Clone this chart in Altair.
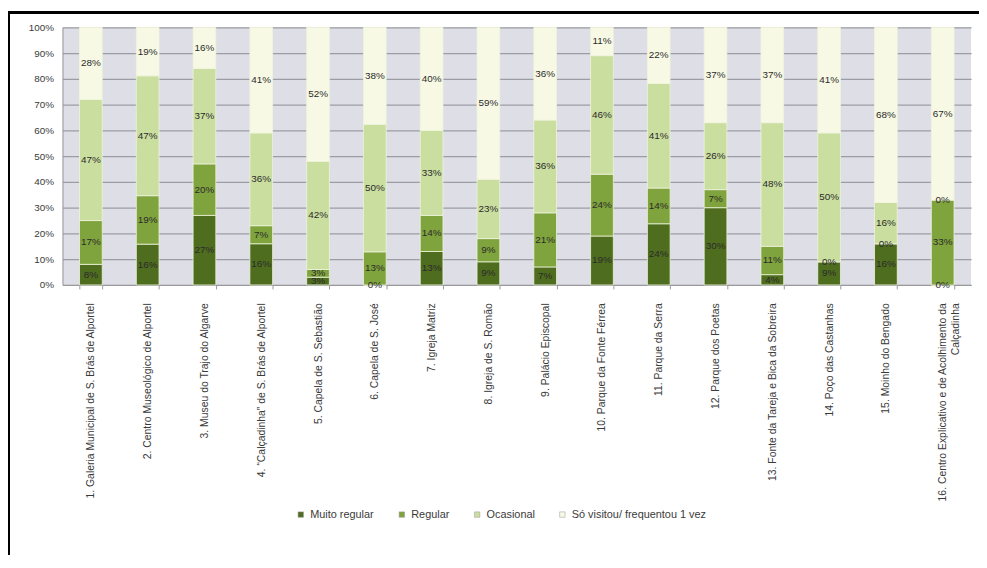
import altair as alt
import pandas as pd

categories = [
    "1. Galeria Municipal de S. Brás de Alportel",
    "2. Centro Museológico de Alportel",
    "3. Museu do Trajo do Algarve",
    "4. “Calçadinha” de S. Brás de Alportel",
    "5. Capela de S. Sebastião",
    "6. Capela de S. José",
    "7. Igreja Matriz",
    "8. Igreja de S. Romão",
    "9. Palácio Episcopal",
    "10. Parque da Fonte Férrea",
    "11. Parque da Serra",
    "12. Parque dos Poetas",
    "13. Fonte da Tareja e Bica da Sobreira",
    "14. Poço das Castanhas",
    "15. Moinho do Bengado",
    "16. Centro Explicativo e de Acolhimento da|Calçadinha",
]
series = ["Muito regular", "Regular", "Ocasional", "Só visitou/ frequentou 1 vez"]
muito_regular = [8, 16, 27, 16, 3, 0, 13, 9, 7, 19, 24, 30, 4, 9, 16, 0]
regular = [17, 19, 20, 7, 3, 13, 14, 9, 21, 24, 14, 7, 11, 0, 0, 33]
ocasional = [47, 47, 37, 36, 42, 50, 33, 23, 36, 46, 41, 26, 48, 50, 16, 0]
so_visitou = [28, 19, 16, 41, 52, 38, 40, 59, 36, 11, 22, 37, 37, 41, 68, 67]
y_ticks = [i / 10 for i in range(11)]
colors = ["#4e6d1e", "#7fa33d", "#cadea0", "#f7f9e4"]

rows = []
for i, c in enumerate(categories):
    for j, (s, vals) in enumerate(zip(series, [muito_regular, regular, ocasional, so_visitou])):
        rows.append({"cat": c, "series": s, "order": j, "value": vals[i]})
df = pd.DataFrame(rows)

W, H = 917, 260
FONT = "Liberation Sans"

x_axis = alt.Axis(labelAngle=270, labelAlign="right", labelBaseline="middle",
                  labelPadding=14, labelFontSize=10.5, labelColor="#3a3a3a",
                  labelFont=FONT, labelLimit=400, labelOverlap=False,
                  labelExpr="split(datum.label, '|')",
                  tickBand="extent", tickSize=4, tickColor="#999999",
                  domainColor="#999999", grid=False)
x_scale = alt.Scale(paddingInner=0.6, paddingOuter=0.3)
y_axis = alt.Axis(format="%", values=y_ticks, labelOverlap=False,
                  labelFontSize=10, labelColor="#3a3a3a", labelFont=FONT,
                  labelPadding=9, ticks=False, domainColor="#999999",
                  gridColor="#9c9ca4", gridWidth=1.2)
y_scale = alt.Scale(domain=[0, 1], nice=False)

base = alt.Chart(df).transform_stack(
    stack="value", as_=["y0", "y1"], groupby=["cat"],
    sort=[alt.SortField("order", order="ascending")], offset="normalize"
).transform_calculate(mid="(datum.y0 + datum.y1) / 2", lab="datum.value + '%'")

bars = base.mark_bar(stroke="#eef3dc", strokeWidth=0.8).encode(
    x=alt.X("cat:N", sort=categories, title=None, scale=x_scale, axis=x_axis),
    y=alt.Y("y0:Q", title=None, scale=y_scale, axis=y_axis),
    y2="y1:Q",
    color=alt.Color("series:N", sort=series,
                    scale=alt.Scale(domain=series, range=colors),
                    legend=alt.Legend(title=None, orient="none", direction="horizontal",
                                      legendX=235, legendY=486, symbolType="square",
                                      symbolSize=30, symbolStrokeColor="#999999",
                                      symbolStrokeWidth=0.5,
                                      labelFontSize=11, labelColor="#3a3a3a",
                                      labelFont=FONT, columnPadding=22)),
    order=alt.Order("order:Q"),
)

texts = base.mark_text(fontSize=10, color="#2b2b2b", font=FONT).encode(
    x=alt.X("cat:N", sort=categories, title=None, scale=x_scale, axis=x_axis),
    y=alt.Y("mid:Q", title=None, scale=y_scale, axis=y_axis),
    text="lab:N",
)

frame_top = alt.Chart(df).mark_rule(color="black", strokeWidth=1.5).encode(
    x=alt.value(-55), x2=alt.value(930), y=alt.value(-15))
frame_left = alt.Chart(df).mark_rule(color="black", strokeWidth=1.5).encode(
    x=alt.value(-54), y=alt.value(-15), y2=alt.value(560))

chart = alt.layer(bars, texts, frame_top, frame_left).properties(
    width=W, height=H,
    autosize=alt.AutoSizeParams(type="none"),
    padding={"left": 55, "top": 17, "right": 8, "bottom": 270},
    background="white",
).configure_view(fill="#dddee6", stroke=None)

chart.save("out.html", embed_options={"renderer": "svg", "actions": False})
